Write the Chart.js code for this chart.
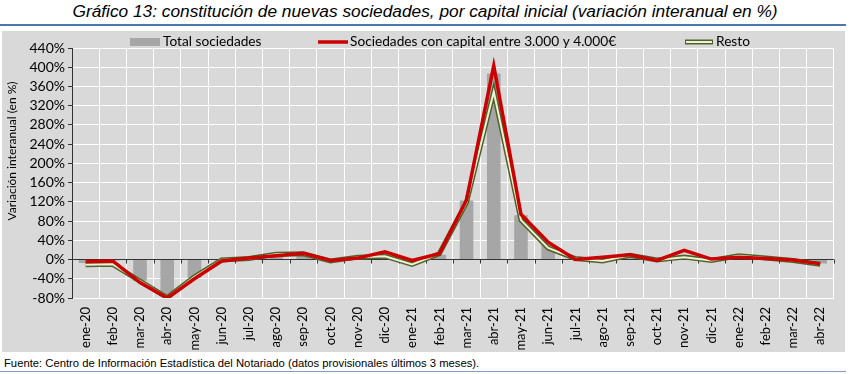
<!DOCTYPE html>
<html>
<head>
<meta charset="utf-8">
<script src="https://cdn.jsdelivr.net/npm/chart.js@4.4.1/dist/chart.umd.min.js"></script>
<style>
  html, body { margin: 0; padding: 0; background: #fff; }
  body { width: 850px; height: 374px; position: relative; overflow: hidden; }
  #title { position: absolute; left: 0; top: 1px; width: 850px; text-align: center;
    font: italic 17.3px "Liberation Sans Narrow", "Arial Narrow", sans-serif; line-height: 20px; color: #000; }
  #rule { position: absolute; left: 0; top: 24px; width: 846px; height: 2px; background: #4a76b4; }
  #box { position: absolute; left: 2px; top: 31px; width: 843px; height: 321px; background: #d9d9d9; }
  #foot { position: absolute; left: 4px; top: 357px; font: 11.25px "Liberation Sans", Arial, sans-serif; color: #000; }
  #rule2 { position: absolute; left: 0; top: 371px; width: 846px; height: 1px; background: #7f9fc8; }
</style>
</head>
<body>
<div id="title">Gráfico 13: constitución de nuevas sociedades, por capital inicial (variación interanual en %)</div>
<div id="rule"></div>
<div id="box"><canvas id="app"></canvas></div>
<div id="foot">Fuente: Centro de Información Estadística del Notariado (datos provisionales últimos 3 meses).</div>
<div id="rule2"></div>
<script>
const months = ['ene-20','feb-20','mar-20','abr-20','may-20','jun-20','jul-20','ago-20','sep-20','oct-20','nov-20','dic-20',
  'ene-21','feb-21','mar-21','abr-21','may-21','jun-21','jul-21','ago-21','sep-21','oct-21','nov-21','dic-21',
  'ene-22','feb-22','mar-22','abr-22']

// variación interanual, %
const totalSociedades = [-7, -2, -44, -75, -38, -2, 3, 9, 9, -3, 4, 8, -8, 10, 123, 387, 92, 30, 1, -2, 8, -2, 7, -1, 7, 2, -2, -8]
const capital3a4mil = [-4, -3, -48, -80, -40, -3, 3, 8, 13, -2, 3, 16, -2, 12, 124, 403, 94, 36, 0, 5, 10, -2, 19, 1, 5, 2, -1, -9]
const resto = [-11, -10, -45, -79, -36, -1, 2, 11, 12, -3, 5, 7, -10, 12, 119, 349, 82, 24, 2, -3, 9, -1, 5, -2, 8, 3, -2, -10]

const yMin = -80
const yMax = 440
const yStep = 40

const seriesNames = ['Total sociedades', 'Sociedades con capital entre 3.000 y 4.000€', 'Resto']
const yTitle = 'Variación interanual (en %)'

const RED = '#cc0000'
const OLIVE = '#4f6228'
const OLIVE_IN = '#eef0d8'
const BAR = '#a6a6a6'
const FONT = 'Lato, "Liberation Sans", sans-serif'

const decor = {
  id: 'decor',
  beforeDatasetsDraw(chart) {
    // tick marks along the 0% line, at category boundaries
    const { ctx, scales: { x, y } } = chart
    const y0 = y.getPixelForValue(0)
    const n = months.length
    ctx.save()
    ctx.strokeStyle = '#333'
    ctx.lineWidth = 1
    ctx.beginPath()
    for (let i = 0; i <= n; i++) {
      const px = Math.round(x.left + i * x.width / n) + 0.5
      ctx.moveTo(px, y0)
      ctx.lineTo(px, y0 + 4)
    }
    ctx.stroke()
    ctx.restore()
  },
  afterDraw(chart) {
    const ctx = chart.ctx
    ctx.save()
    ctx.font = '13.7px ' + FONT
    ctx.fillStyle = '#000'
    ctx.textBaseline = 'middle'
    const ly = 11
    // legend: Total sociedades
    ctx.fillStyle = BAR
    ctx.fillRect(128, 7, 30, 8)
    ctx.fillStyle = '#000'
    ctx.fillText(seriesNames[0], 161, ly)
    // legend: capital 3.000-4.000
    ctx.strokeStyle = RED
    ctx.lineWidth = 3.5
    ctx.beginPath(); ctx.moveTo(316, ly); ctx.lineTo(346, ly); ctx.stroke()
    ctx.fillText(seriesNames[1], 348, ly)
    // legend: resto
    ctx.strokeStyle = OLIVE
    ctx.lineWidth = 5
    ctx.beginPath(); ctx.moveTo(683, ly); ctx.lineTo(711, ly); ctx.stroke()
    ctx.strokeStyle = OLIVE_IN
    ctx.lineWidth = 2
    ctx.beginPath(); ctx.moveTo(684, ly); ctx.lineTo(710, ly); ctx.stroke()
    ctx.fillText(seriesNames[2], 714, ly)
    // y axis title
    ctx.font = '12px ' + FONT
    ctx.textAlign = 'center'
    ctx.translate(10, 120)
    ctx.rotate(-Math.PI / 2)
    ctx.fillText(yTitle, 0, 0)
    ctx.restore()
  }
}

const lineBase = { type: 'line', tension: 0, pointRadius: 0, pointHoverRadius: 0, fill: false }

new Chart(document.getElementById('app'), {
  type: 'bar',
  data: {
    labels: months,
    datasets: [
      { label: seriesNames[0], data: totalSociedades, backgroundColor: BAR,
        barPercentage: 0.5, categoryPercentage: 1, order: 3 },
      { ...lineBase, label: seriesNames[2], data: resto, borderColor: OLIVE, borderWidth: 5, order: 2 },
      { ...lineBase, label: seriesNames[2] + ' (interior)', data: resto, borderColor: OLIVE_IN, borderWidth: 2, order: 1 },
      { ...lineBase, label: seriesNames[1], data: capital3a4mil, borderColor: RED, borderWidth: 3.5, order: 0 }
    ]
  },
  options: {
    responsive: true,
    maintainAspectRatio: false,
    animation: false,
    layout: { padding: { top: 17, right: 8, bottom: 0, left: 0 } },
    plugins: { legend: { display: false }, tooltip: { enabled: false } },
    scales: {
      x: {
        offset: true,
        grid: { color: '#ffffff', lineWidth: 1, offset: true, drawTicks: false },
        border: { display: false },
        ticks: { autoSkip: false, minRotation: 90, maxRotation: 90, padding: 9,
          color: '#000', font: { family: FONT, size: 13 } },
        afterFit(scale) { scale.height = 54 }
      },
      y: {
        min: yMin,
        max: yMax,
        ticks: { stepSize: yStep, autoSkip: false, padding: 3, color: '#000', font: { family: FONT, size: 14 },
          callback: v => v + '%' },
        grid: {
          color: c => (c.tick && c.tick.value === 0) ? '#333333' : '#ffffff',
          lineWidth: 1, tickColor: '#333333', tickLength: 4
        },
        border: { display: true, color: '#333333', width: 1 },
        afterFit(scale) { scale.width = 70 }
      }
    }
  },
  plugins: [decor]
})
</script>
</body>
</html>
